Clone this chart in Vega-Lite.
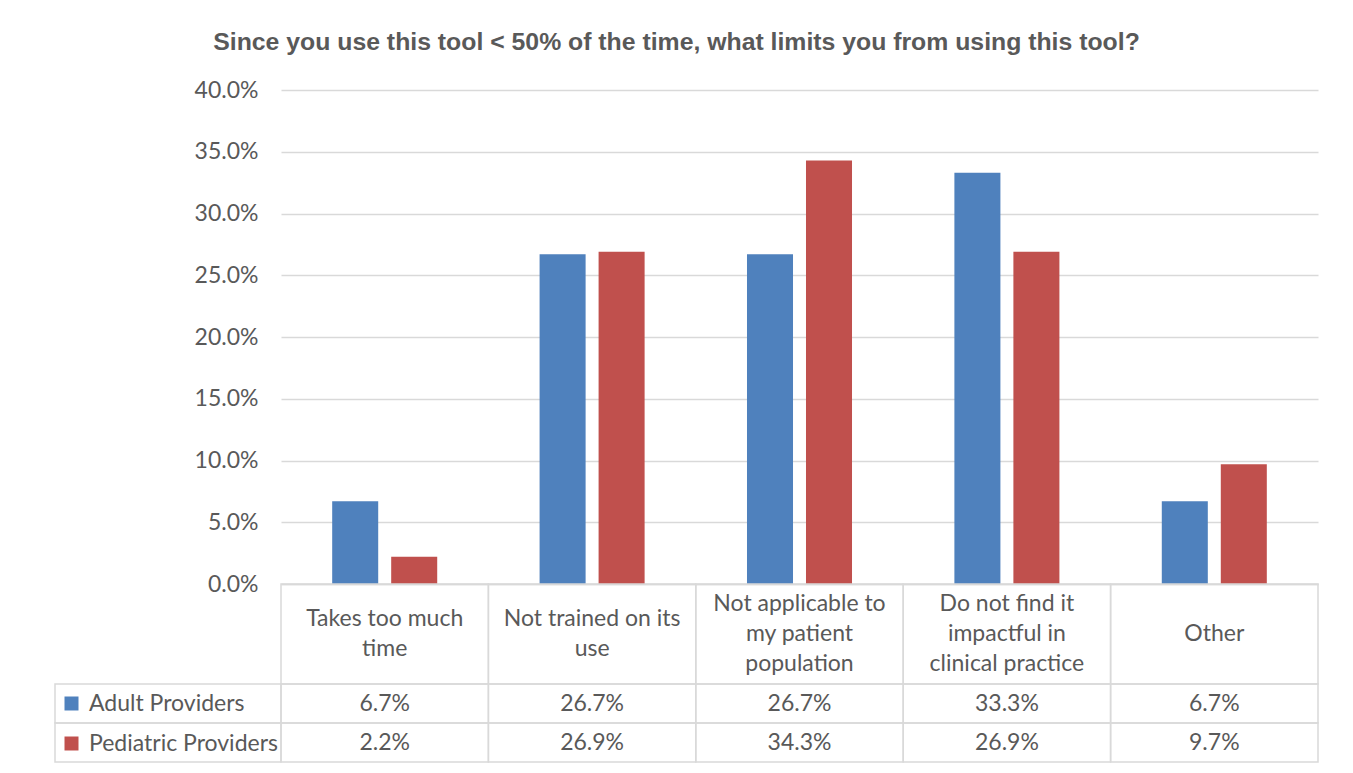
{
  "$schema": "https://vega.github.io/schema/vega-lite/v6.json",
  "padding": {"left": 54, "top": 30, "right": 5, "bottom": 5},
  "background": "white",
  "title": {
    "text": "Since you use this tool < 50% of the time, what limits you from using this tool?",
    "font": "Liberation Sans",
    "fontSize": 24.8,
    "fontWeight": "bold",
    "color": "#595959",
    "anchor": "middle",
    "dx": -10,
    "offset": 24
  },
  "datasets": {
    "bars": [
      {"category": "Takes too much time", "series": "Adult Providers", "value": 0.067},
      {"category": "Takes too much time", "series": "Pediatric Providers", "value": 0.022},
      {"category": "Not trained on its use", "series": "Adult Providers", "value": 0.267},
      {"category": "Not trained on its use", "series": "Pediatric Providers", "value": 0.269},
      {"category": "Not applicable to my patient population", "series": "Adult Providers", "value": 0.267},
      {"category": "Not applicable to my patient population", "series": "Pediatric Providers", "value": 0.343},
      {"category": "Do not find it impactful in clinical practice", "series": "Adult Providers", "value": 0.333},
      {"category": "Do not find it impactful in clinical practice", "series": "Pediatric Providers", "value": 0.269},
      {"category": "Other", "series": "Adult Providers", "value": 0.067},
      {"category": "Other", "series": "Pediatric Providers", "value": 0.097}
    ],
    "cats": [
      {"category": "Takes too much time", "label": "Takes too much\ntime"},
      {"category": "Not trained on its use", "label": "Not trained on its\nuse"},
      {"category": "Not applicable to my patient population", "label": "Not applicable to\nmy patient\npopulation"},
      {"category": "Do not find it impactful in clinical practice", "label": "Do not find it\nimpactful in\nclinical practice"},
      {"category": "Other", "label": "Other"}
    ],
    "series": [
      {"series": "Adult Providers"},
      {"series": "Pediatric Providers"}
    ],
    "empty": []
  },
  "columns": 2,
  "spacing": 0,
  "bounds": "flush",
  "align": "each",
  "concat": [
    {
      "width": 226, "height": 494,
      "data": {"name": "empty"},
      "mark": "point",
      "encoding": {}
    },
    {
      "width": 1037, "height": 494,
      "data": {"name": "bars"},
      "mark": {"type": "bar"},
      "encoding": {
        "x": {
          "field": "category", "type": "nominal", "sort": null,
          "scale": {"paddingInner": 0, "paddingOuter": 0},
          "axis": {"labels": false, "ticks": false, "title": null, "domainColor": "#d9d9d9", "domainWidth": 1.5}
        },
        "xOffset": {
          "field": "series", "type": "nominal", "sort": null,
          "scale": {"paddingInner": 0.22, "paddingOuter": 0.8676}
        },
        "y": {
          "field": "value", "type": "quantitative",
          "scale": {"domain": [0, 0.4]},
          "axis": {
            "format": ".1%",
            "values": [0, 0.05, 0.1, 0.15, 0.2, 0.25, 0.3, 0.35, 0.4],
            "title": null, "domain": false, "ticks": false,
            "labelPadding": 23, "labelFontSize": 23, "labelColor": "#595959", "labelFont": "Lato",
            "gridColor": "#d9d9d9", "gridWidth": 1.5
          }
        },
        "color": {
          "field": "series", "type": "nominal", "sort": null,
          "scale": {"range": ["#4f81bd", "#c0504d"]},
          "legend": {
            "orient": "none", "legendX": 5, "legendY": 602,
            "title": null, "direction": "vertical",
            "symbolType": "square", "symbolSize": 196, "symbolStrokeWidth": 0,
            "labelFontSize": 23, "labelColor": "#595959", "labelFont": "Lato",
            "labelOffset": 6, "rowPadding": 16, "labelLimit": 400
          }
        }
      }
    },
    {
      "width": 226, "height": 100,
      "data": {"name": "empty"},
      "mark": "point",
      "encoding": {}
    },
    {
      "width": 1037, "height": 100,
      "data": {"name": "cats"},
      "encoding": {
        "x": {
          "field": "category", "type": "nominal", "sort": null,
          "scale": {"paddingInner": 0, "paddingOuter": 0},
          "axis": null
        }
      },
      "layer": [
        {"mark": {"type": "rect", "fill": "transparent", "stroke": "#d9d9d9", "strokeWidth": 1.5}},
        {
          "transform": [{"filter": "length(split(datum.label, '\\n')) == 1"}],
          "mark": {"type": "text", "lineBreak": "\n", "lineHeight": 30, "fontSize": 23, "font": "Lato", "color": "#595959", "baseline": "middle"},
          "encoding": {"text": {"field": "label"}}
        },
        {
          "transform": [{"filter": "length(split(datum.label, '\\n')) == 2"}],
          "mark": {"type": "text", "lineBreak": "\n", "lineHeight": 30, "fontSize": 23, "font": "Lato", "color": "#595959", "baseline": "middle", "dy": -15},
          "encoding": {"text": {"field": "label"}}
        },
        {
          "transform": [{"filter": "length(split(datum.label, '\\n')) == 3"}],
          "mark": {"type": "text", "lineBreak": "\n", "lineHeight": 30, "fontSize": 23, "font": "Lato", "color": "#595959", "baseline": "middle", "dy": -30},
          "encoding": {"text": {"field": "label"}}
        }
      ]
    },
    {
      "width": 226, "height": 78,
      "data": {"name": "series"},
      "mark": {"type": "rect", "fill": "transparent", "stroke": "#d9d9d9", "strokeWidth": 1.5},
      "encoding": {
        "y": {
          "field": "series", "type": "nominal", "sort": null,
          "scale": {"paddingInner": 0, "paddingOuter": 0},
          "axis": null
        }
      }
    },
    {
      "width": 1037, "height": 78,
      "data": {"name": "bars"},
      "encoding": {
        "x": {
          "field": "category", "type": "nominal", "sort": null,
          "scale": {"paddingInner": 0, "paddingOuter": 0},
          "axis": null
        },
        "y": {
          "field": "series", "type": "nominal", "sort": null,
          "scale": {"paddingInner": 0, "paddingOuter": 0},
          "axis": null
        }
      },
      "layer": [
        {"mark": {"type": "rect", "fill": "transparent", "stroke": "#d9d9d9", "strokeWidth": 1.5}},
        {
          "mark": {"type": "text", "fontSize": 23, "font": "Lato", "color": "#595959", "baseline": "middle"},
          "encoding": {"text": {"field": "value", "type": "quantitative", "format": ".1%"}}
        }
      ]
    }
  ],
  "config": {
    "view": {"stroke": null},
    "font": "Lato"
  }
}
